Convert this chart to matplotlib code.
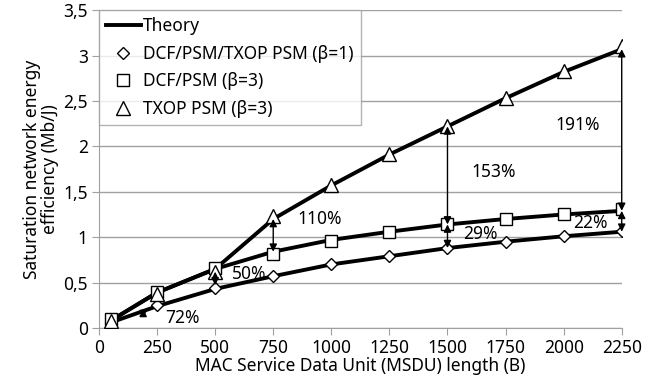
import matplotlib
matplotlib.use("Agg")
import matplotlib.pyplot as plt
from matplotlib.ticker import FuncFormatter

# MSDU length (B)
msdu = [50, 250, 500, 750, 1000, 1250, 1500, 1750, 2000, 2250]

# simulation points (Mb/J)
dcf_b1 = [0.05, 0.25, 0.44, 0.57, 0.70, 0.79, 0.88, 0.95, 1.01, 1.07]
dcf_b3 = [0.10, 0.40, 0.66, 0.81, 0.96, 1.06, 1.15, 1.20, 1.25, 1.31]
txop_b3 = [0.08, 0.37, 0.62, 1.23, 1.57, 1.92, 2.22, 2.53, 2.83, 3.10]

# theory curves
th_b1 = [0.06, 0.24, 0.43, 0.57, 0.70, 0.79, 0.88, 0.95, 1.01, 1.06]
th_dcf_b3 = [0.08, 0.39, 0.65, 0.84, 0.97, 1.06, 1.14, 1.20, 1.25, 1.29]
th_txop_b3 = [0.08, 0.39, 0.65, 1.20, 1.57, 1.91, 2.22, 2.53, 2.82, 3.07]

# gain annotations: (x, y_top, y_bottom), label, label position
arrows = [(190, 0.21, 0.11), (500, 0.62, 0.47), (750, 1.20, 0.84),
          (1500, 2.22, 1.14), (1500, 1.14, 0.88),
          (2250, 3.07, 1.29), (2250, 1.29, 1.06)]
gain_labels = ["72%", "50%", "110%", "153%", "29%", "191%", "22%"]
gain_pos = [(360, 0.11), (645, 0.60), (950, 1.20), (1700, 1.72),
            (1640, 1.03), (2060, 2.24), (2115, 1.16)]

plt.rcParams['font.family'] = ['Noto Sans', 'DejaVu Sans']
fs = 12.5
fig = plt.figure(figsize=(6.6, 3.9), dpi=100)
ax = fig.add_axes([0.15, 0.159, 0.792, 0.815])

lw = 2.8
ax.plot(msdu, th_b1, color='black', lw=lw, label='Theory', zorder=3)
ax.plot(msdu, th_dcf_b3, color='black', lw=lw, zorder=3)
ax.plot(msdu, th_txop_b3, color='black', lw=lw, zorder=3)

mk = dict(ls='none', mfc='white', mec='black', mew=1.0, zorder=4)
ax.plot(msdu, dcf_b1, marker='D', ms=6.5, label='DCF/PSM/TXOP PSM (β=1)', **mk)
ax.plot(msdu, dcf_b3, marker='s', ms=9, label='DCF/PSM (β=3)', **mk)
ax.plot(msdu, txop_b3, marker='^', ms=10, label='TXOP PSM (β=3)', **mk)

for (x, y1, y2) in arrows:
    ax.annotate('', xy=(x, y2), xytext=(x, y1),
                arrowprops=dict(arrowstyle='<|-|>', color='black', lw=1,
                                mutation_scale=11, shrinkA=0, shrinkB=0),
                zorder=5)
for t, (x, y) in zip(gain_labels, gain_pos):
    ax.text(x, y, t, ha='center', va='center', fontsize=fs, zorder=6)

ax.set_xlim(0, 2250)
ax.set_ylim(0, 3.5)
ax.set_xticks(range(0, 2251, 250))
ax.set_yticks([i * 0.5 for i in range(8)])
ax.yaxis.set_major_formatter(FuncFormatter(lambda v, p: ('%g' % v).replace('.', ',')))
ax.grid(axis='y', color='#a0a0a0', lw=1)
ax.set_axisbelow(True)
for s in ['top', 'right']:
    ax.spines[s].set_visible(False)
for s in ['left', 'bottom']:
    ax.spines[s].set_color('#a0a0a0')
ax.tick_params(axis='both', colors='#a0a0a0', labelcolor='black', labelsize=fs,
               length=5, pad=3)

ax.set_xlabel('MAC Service Data Unit (MSDU) length (B)', fontsize=fs, labelpad=0)
ax.set_ylabel('Saturation network energy\nefficiency (Mb/J)', fontsize=fs,
              labelpad=3, linespacing=1.0)

leg = ax.legend(loc='upper left', bbox_to_anchor=(0.0, 1.0), borderaxespad=0,
                fontsize=fs, frameon=True, fancybox=False, handlelength=2.0,
                labelspacing=0.55, borderpad=0.4, handletextpad=0.15)
leg.get_frame().set_edgecolor('#a0a0a0')
leg.get_frame().set_linewidth(1)

fig.savefig('out.png', dpi=100)
